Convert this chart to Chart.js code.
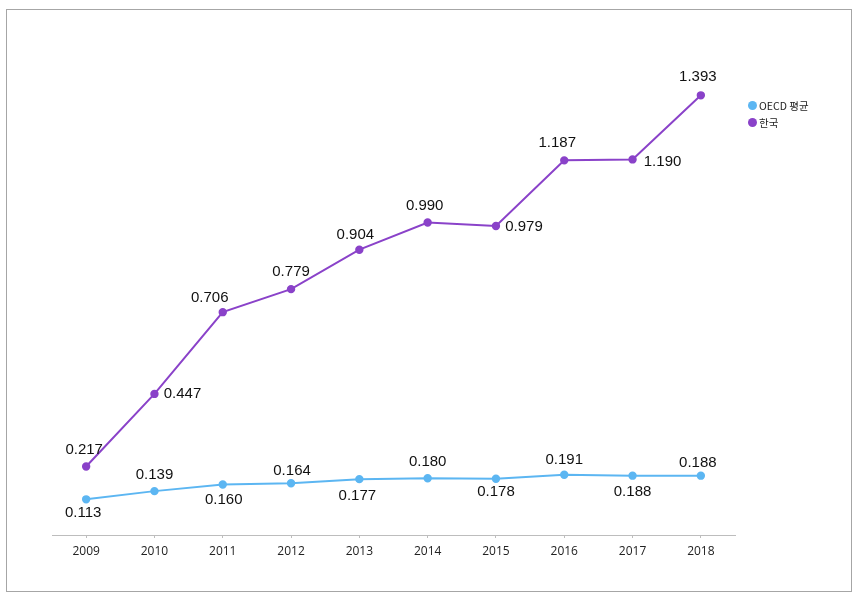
<!DOCTYPE html>
<html>
<head>
<meta charset="utf-8">
<script src="https://cdn.jsdelivr.net/npm/chart.js@4"></script>
<style>
  html, body { margin: 0; padding: 0; background: #fff; }
  #wrap { position: relative; width: 861px; height: 602px; }
  #frame {
    position: absolute; left: 6px; top: 9px; width: 844px; height: 581px;
    border: 1px solid #a6a6a6; box-sizing: content-box; pointer-events: none;
  }
  canvas { position: absolute; left: 0; top: 0; }
  #legend {
    position: absolute; left: 748px; top: 97px;
    font-family: "Noto Sans CJK KR", "Noto Sans", sans-serif; font-size: 10.5px; color: #222;
  }
  #legend div { display: flex; align-items: center; height: 17px; }
  #legend span.dot { width: 9px; height: 9px; border-radius: 50%; margin-right: 2px; display: inline-block; }
</style>
</head>
<body>
<div id="wrap">
  <canvas id="chart" width="861" height="602"></canvas>
  <div id="frame"></div>
  <div id="legend"></div>
</div>
<script>
// chart data
const years = ["2009", "2010", "2011", "2012", "2013", "2014", "2015", "2016", "2017", "2018"]
const oecdValues = [0.113, 0.139, 0.160, 0.164, 0.177, 0.180, 0.178, 0.191, 0.188, 0.188]
const koreaValues = [0.217, 0.447, 0.706, 0.779, 0.904, 0.990, 0.979, 1.187, 1.190, 1.393]
const seriesNames = ["OECD 평균", "한국"]

const oecdColor = "#5cb6f2"
const koreaColor = "#8a42c9"

// label offsets (px) from each point, per series
const labelOffsets = [
  [[-3, 14], [0, -16], [1, 15], [1, -12], [-2, 17], [0, -16], [0, 13], [0, -15], [0, 16], [-3, -13]],
  [[-2, -17], [28, 0], [-13, -14], [0, -17], [-4, -15], [-3, -17], [28, 1], [-7, -17], [30, 2], [-3, -18]],
]

// draws the value labels next to each point
const valueLabels = {
  id: "valueLabels",
  afterDatasetsDraw(chart) {
    const ctx = chart.ctx
    ctx.save()
    ctx.font = "15px 'Liberation Sans', Arial, sans-serif"
    ctx.fillStyle = "#111"
    ctx.textAlign = "center"
    ctx.textBaseline = "middle"
    chart.data.datasets.forEach((ds, i) => {
      chart.getDatasetMeta(i).data.forEach((pt, j) => {
        const [dx, dy] = labelOffsets[i][j]
        ctx.fillText(ds.data[j].toFixed(3), pt.x + dx, pt.y + dy)
      })
    })
    ctx.restore()
  },
}

new Chart(document.getElementById("chart"), {
  type: "line",
  data: {
    labels: years,
    datasets: [
      {
        label: seriesNames[0],
        data: oecdValues,
        borderColor: oecdColor,
        backgroundColor: oecdColor,
        borderWidth: 2,
        pointRadius: 3.2,
        tension: 0,
      },
      {
        label: seriesNames[1],
        data: koreaValues,
        borderColor: koreaColor,
        backgroundColor: koreaColor,
        borderWidth: 2,
        pointRadius: 3.2,
        tension: 0,
      },
    ],
  },
  options: {
    responsive: false,
    animation: false,
    layout: { padding: { left: 52, right: 126, top: 30, bottom: 0 } },
    plugins: {
      legend: { display: false },
      tooltip: { enabled: false },
    },
    scales: {
      x: {
        offset: true,
        afterFit(scale) { scale.height = 67 },
        border: { color: "#bdbdbd", width: 1 },
        grid: {
          offset: false,
          drawOnChartArea: false,
          drawTicks: true,
          tickLength: 3,
          color: "#bdbdbd",
        },
        ticks: {
          color: "#222",
          padding: 6,
          font: { family: "'Open Sans', 'DejaVu Sans', sans-serif", size: 12 },
          maxRotation: 0,
        },
      },
      y: {
        display: false,
        min: 0,
        max: 1.6,
      },
    },
  },
  plugins: [valueLabels],
})

// html legend
const legend = document.getElementById("legend")
;[oecdColor, koreaColor].forEach((c, i) => {
  const row = document.createElement("div")
  row.innerHTML = `<span class="dot" style="background:${c}"></span>${seriesNames[i]}`
  legend.appendChild(row)
})
</script>
</body>
</html>
